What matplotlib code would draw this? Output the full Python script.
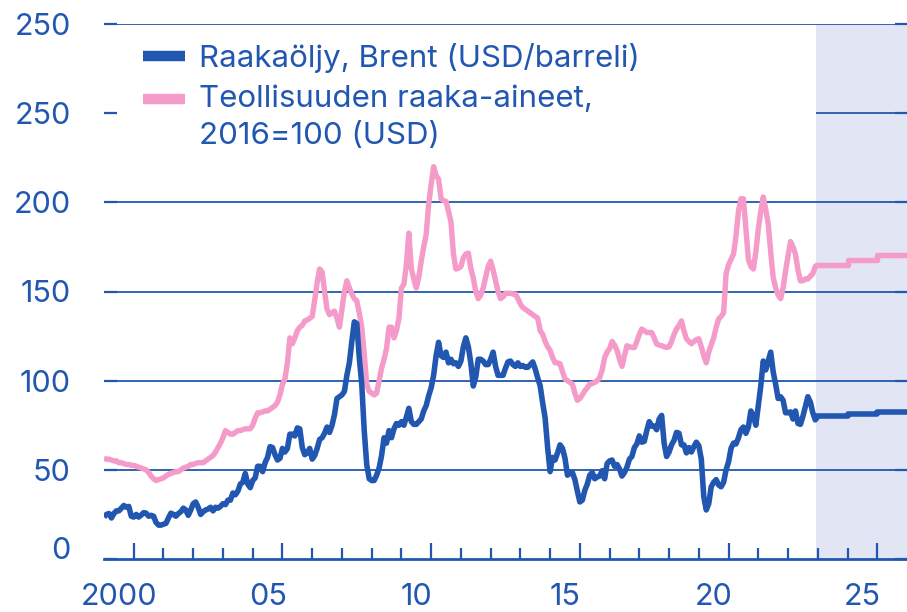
import matplotlib
matplotlib.use("Agg")
import matplotlib.pyplot as plt
from matplotlib.legend_handler import HandlerLine2D
import numpy as np

plt.rcParams['font.family'] = ['Inter', 'DejaVu Sans']

# Monthly values 2000-2023 (Brent, USD/barrel)
brent = [
    23.5, 25, 25.5, 23, 25.5, 27, 27, 28.5, 30, 29, 29.5, 24,          # 2000
    23.5, 25, 23.5, 24.6, 26, 25.7, 24, 24.5, 24, 20.5, 19, 19,        # 2001
    19.5, 20, 23, 25.7, 25, 24, 25.5, 26.5, 28.5, 27.5, 24.5, 27.5,    # 2002
    31, 32, 29, 25, 26.5, 27.5, 28, 29, 27, 29, 28.5, 29.5,            # 2003
    31, 30.5, 33, 33, 37, 36, 38, 42, 43, 48, 42, 40,                  # 2004
    44, 45.5, 52, 52, 49, 54, 57, 63, 62.5, 58.5, 55.5, 56.5,          # 2005
    62, 60, 62, 70, 70, 69, 73.5, 73, 62.5, 58.5, 59.5, 62,            # 2006
    56, 58, 62, 67, 68, 70.5, 74, 71, 75, 81, 90, 91,                  # 2007
    92, 94, 103, 110, 122, 133, 132, 113, 98, 72, 53, 45,              # 2008
    44, 44, 47, 51, 58, 68, 65, 72, 68, 73, 76, 75,                    # 2009
    77, 75, 79.5, 84.5, 77, 75.5, 75.5, 77, 78.5, 83, 86, 91.5,        # 2010
    96, 103, 114, 121.5, 114, 113, 116, 110, 112, 109.5, 110, 108,     # 2011
    111, 119, 124, 119, 110, 97, 102, 112, 112, 111, 109, 109,         # 2012
    112, 116, 108, 103, 103, 103, 107, 110.5, 111, 109, 108, 110,      # 2013
    108, 108.5, 107.5, 107.5, 109, 110.5, 106.5, 101.5, 97, 87.5, 79, 62.5,  # 2014
    49, 57, 55.5, 59.5, 64, 62, 56.5, 47, 48, 48.5, 44.5, 38,          # 2015
    32, 33, 38.5, 42, 47, 48.5, 45, 46, 46.5, 49.5, 45, 53.5,          # 2016
    55, 55.5, 52, 53, 50.5, 46.5, 48.5, 51.5, 56, 57.5, 62.5, 64.5,    # 2017
    69, 65.5, 66, 72, 77, 74.5, 74.5, 72.5, 78.5, 80.5, 65, 57.5,      # 2018
    60, 64, 66.5, 71, 70.5, 64, 64, 59.5, 62.5, 60, 63, 65.5,          # 2019
    63.5, 56, 35, 27.5, 31, 40.5, 43, 44.5, 41.5, 40.5, 43, 50,        # 2020
    54.5, 62, 65, 64.5, 68, 72.5, 74, 70.5, 74, 83, 80.5, 75,          # 2021
    86, 97, 111, 106, 111, 116, 105, 98, 90, 91, 89, 82,               # 2022
    82, 82.5, 78.5, 83, 76, 75.5, 80, 85.5, 91, 88, 82, 78,            # 2023
]

# Industrial raw materials index, 2016=100 (USD)
raw = [
    56.4, 56, 56, 55.5, 55, 55, 54, 54, 53.5, 53, 53, 52.5,            # 2000
    52.5, 52, 51.5, 51, 50.5, 50, 48.5, 46.5, 45, 44, 44.5, 45,        # 2001
    45.5, 46.5, 47.5, 48, 48.5, 49, 49, 50, 51, 51.5, 52, 53,          # 2002
    53, 53.6, 54, 54, 54, 55, 56, 57, 58, 60, 62.5, 65,                # 2003
    68, 72, 71, 70, 70, 71, 72, 72, 72.5, 73, 73, 73,                  # 2004
    75, 79, 82, 82, 82.5, 83, 83, 84, 85, 86, 88, 92,                  # 2005
    98, 101, 110, 124, 120.7, 124, 128, 130, 131, 133.5, 134, 135,     # 2006
    136, 145, 155, 162.6, 161, 150, 140, 137, 138, 139, 135, 130,      # 2007
    140, 150, 156, 152, 148.6, 146, 144.7, 138, 130, 115, 98, 94,      # 2008
    93, 92, 93, 100, 107, 112, 118, 130, 130, 124, 128, 135,           # 2009
    152, 154, 165, 182.7, 163, 157, 152, 158, 167, 175, 182, 199,      # 2010
    210, 220, 215, 213, 202, 201, 200.5, 195, 189, 171, 162.6, 163,    # 2011
    164, 169, 171, 171.5, 163, 157.5, 150, 146, 148, 152, 158, 164,    # 2012
    167, 162, 156, 150, 146, 147, 149, 149, 149, 148.6, 148.6, 146,    # 2013
    143, 141, 140, 139, 138, 137, 136, 135, 128, 126, 122, 119,        # 2014
    117, 113, 110, 110, 109.5, 105, 101, 100, 99, 98, 93, 89,          # 2015
    90, 92, 94.4, 96, 98, 98.5, 99, 100, 101.7, 106, 113, 116,         # 2016
    118, 122, 120, 117, 112, 108, 114, 119.6, 119, 118.6, 118.6, 122,  # 2017
    126, 129, 128, 127, 127, 127, 124, 120.5, 120, 119.6, 119, 118.6,  # 2018
    119, 122, 126, 129, 131, 133.5, 128, 123.5, 122, 120.7, 122, 123,  # 2019
    123.5, 119, 114, 110, 116, 120, 124, 130, 134.6, 136, 138, 160,    # 2020
    165, 168, 171, 181, 195, 202, 202, 185, 168, 164, 162.6, 172,      # 2021
    185, 195, 203, 196, 188, 172, 158, 152, 148, 146, 152, 161.5,      # 2022
    170, 178, 175, 171, 162, 156, 156, 157, 157, 158.6, 160, 164,      # 2023
]

# Annual forecasts 2024-2026
fc_years = [2024, 2025, 2026]
brent_fc = [80, 81.5, 82.5]
raw_fc = [165, 167.5, 170.5]

yticks = [0, 50, 100, 150, 200, 250, 300]
ytick_labels = ['0', '50', '100', '150', '200', '250', '250']
xlabel_years = [2000, 2005, 2010, 2015, 2020, 2025]
xlabels = ['2000', '05', '10', '15', '20', '25']
labels = ['Raakaöljy, Brent (USD/barreli)', 'Teollisuuden raaka-aineet,\n2016=100 (USD)']

BLUE = '#2157b0'
PINK = '#f59bc9'
SHADE = '#e2e5f4'
forecast_start = 2023.95


class TopLineHandler(HandlerLine2D):
    """Legend handle aligned with the first line of a two-line label."""
    def __init__(self, dy=0, **kw):
        super().__init__(**kw)
        self.dy = dy

    def create_artists(self, legend, orig_handle, xdescent, ydescent, width, height,
                       fontsize, trans):
        return super().create_artists(legend, orig_handle, xdescent, ydescent - 2 * self.dy,
                                      width, height, fontsize, trans)


months = 2000 + np.arange(len(brent)) / 12

fig = plt.figure(figsize=(9.07, 6.12), dpi=100)
ax = fig.add_axes([104 / 907, 53 / 612, 803 / 907, 535 / 612])
ax.set_xlim(2000, 2027)
ax.set_ylim(0, 300)

# forecast shading
ax.axvspan(forecast_start, 2027, color=SHADE, zorder=0, lw=0)

# gridlines (250 line hidden behind legend in the original)
for y in yticks[1:]:
    x0 = forecast_start if y == 250 else 2000
    ax.hlines(y, x0, 2027, color=BLUE, lw=1.3, zorder=1)

# history + step forecasts
fc_edges = fc_years + [fc_years[-1] + 1]
ax.plot(list(months) + [fc_years[0]], list(raw) + [raw_fc[0]], color=PINK, lw=3.9,
        solid_joinstyle='round', solid_capstyle='butt', zorder=3)
ax.plot(fc_edges, raw_fc + [raw_fc[-1]], color=PINK, lw=3.9, drawstyle='steps-post', zorder=3)
ax.plot(list(months) + [fc_years[0]], list(brent) + [brent_fc[0]], color=BLUE, lw=4.0,
        solid_joinstyle='round', solid_capstyle='butt', zorder=4)
ax.plot(fc_edges, brent_fc + [brent_fc[-1]], color=BLUE, lw=4.0, drawstyle='steps-post', zorder=4)

# legend
h1, = ax.plot([], [], color=BLUE, lw=7.5, solid_capstyle='butt')
h2, = ax.plot([], [], color=PINK, lw=7.5, solid_capstyle='butt')
leg = ax.legend([h1, h2], labels, loc='upper left', bbox_to_anchor=(143 / 907, 1 - 43 / 612),
                bbox_transform=fig.transFigure, frameon=False, fontsize=22.5, labelcolor=BLUE,
                handlelength=1.35, handletextpad=0.45, labelspacing=0.4, borderaxespad=0,
                borderpad=0, handler_map={h2: TopLineHandler(dy=14)})
for t in leg.get_texts():
    t.set_linespacing(1.4)

# y axis
ax.set_yticks(yticks)
ax.set_yticklabels(ytick_labels)
ax.tick_params(axis='y', which='both', direction='in', length=9, width=1.6, color=BLUE,
               labelcolor=BLUE, labelsize=22, pad=24, left=True, right=True)
ax.get_yticklabels()[0].set_verticalalignment('baseline')

# x axis: ticks at year boundaries, labels in the middle of the year
ax.set_xticks([2001, 2006, 2011, 2016, 2021, 2026])
ax.set_xticklabels([])
ax.set_xticks(range(2001, 2027), minor=True)
ax.tick_params(axis='x', which='major', direction='in', length=11.5, width=1.6, color=BLUE)
ax.tick_params(axis='x', which='minor', direction='in', length=8, width=1.6, color=BLUE)
for yr, lab in zip(xlabel_years, xlabels):
    ax.text(yr + 0.5, -0.086, lab, transform=ax.get_xaxis_transform(), ha='center',
            va='baseline', fontsize=22, color=BLUE)

for s in ['top', 'right', 'left']:
    ax.spines[s].set_visible(False)
ax.spines['bottom'].set_color(BLUE)
ax.spines['bottom'].set_linewidth(2)
ax.spines['bottom'].set_zorder(5)

fig.savefig('out.png', dpi=100)
